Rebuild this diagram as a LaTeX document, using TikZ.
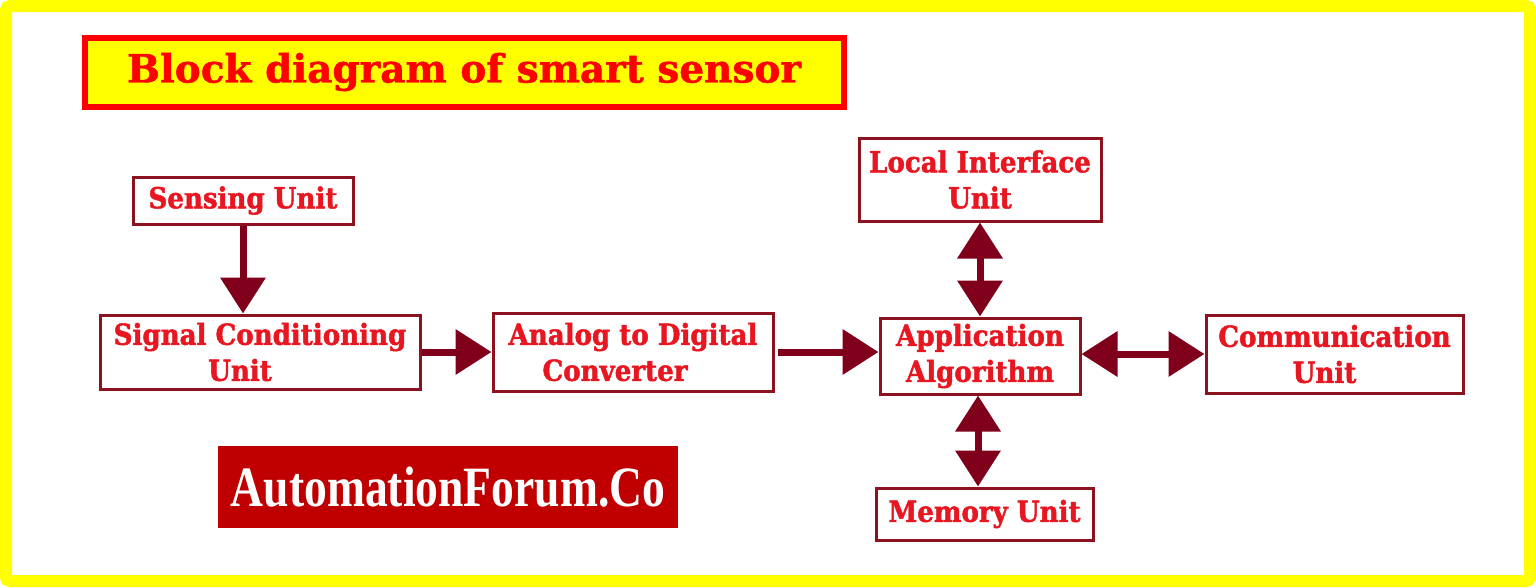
\documentclass[tikz,border=0pt]{standalone}
\usepackage{fontspec}
\setmainfont{Liberation Serif}
\newfontfamily\titlefont{DejaVu Serif}[BoldFeatures={FakeBold=1.2}]
\newfontfamily\boxfont{DejaVu Serif Condensed}[BoldFeatures={FakeBold=1.6}]
\usetikzlibrary{arrows.meta}
\definecolor{arrowc}{RGB}{128,0,28}
\definecolor{boxc}{RGB}{140,18,32}
\definecolor{textc}{RGB}{232,22,32}
\definecolor{frameY}{RGB}{255,255,0}
\definecolor{logoR}{RGB}{192,0,0}
\tikzset{
  blockbox/.style={draw=boxc, line width=3pt, fill=white, text=textc,
    font=\boxfont\bfseries\fontsize{29}{36}\selectfont, align=center, inner sep=0pt},
  flow/.style={draw=arrowc, line width=7pt, -{Triangle[length=36pt,width=44pt]}},
  biflow/.style={draw=arrowc, line width=7pt, {Triangle[length=36pt,width=44pt]}-{Triangle[length=36pt,width=44pt]}},
}
\begin{document}
\begin{tikzpicture}[x=1pt,y=-1pt]
\useasboundingbox (0,0) rectangle (1536,587);
\fill[white] (0,0) rectangle (1536,587);
\draw[frameY, line width=12pt, rounded corners=4pt] (6,6) rectangle (1530,581);

% title
\node[draw=red, line width=6pt, fill=frameY, minimum width=759pt, minimum height=69pt,
      text=red, font=\titlefont\bfseries\fontsize{39}{42}\selectfont, inner sep=0pt]
  (title) at (464,72) {Block diagram of smart sensor};

% blocks
\node[blockbox, minimum width=220pt, minimum height=47pt] (sense) at (243,200.5) {Sensing Unit};
\node[blockbox, minimum width=320pt, minimum height=74pt] (sig) at (260,352) {Signal Conditioning\\\hspace*{-40pt}Unit};
\node[blockbox, minimum width=280pt, minimum height=78pt] (adc) at (633,352) {Analog to Digital\\\hspace*{-36pt}Converter};
\node[blockbox, minimum width=200pt, minimum height=76pt] (app) at (980,356) {Application\\Algorithm};
\node[blockbox, minimum width=242pt, minimum height=83pt] (lif) at (980,179.5) {Local Interface\\Unit};
\node[blockbox, minimum width=257pt, minimum height=78pt] (comm) at (1334.5,354) {Communication\\\hspace*{-20pt}Unit};
\node[blockbox, minimum width=217pt, minimum height=52pt] (mem) at (984.5,514) {Memory Unit};

% logo
\node[fill=logoR, minimum width=460pt, minimum height=82pt, inner sep=0pt, text=white,
      font=\bfseries\fontsize{57}{60}\selectfont] (logo) at (448,487) {\scalebox{0.8}[1]{AutomationForum.Co}};

% connectors
\draw[flow] (sense.south) -- (sense.south |- sig.north);
\draw[flow] (sig.east) -- (sig.east -| adc.west);
\draw[flow] ([xshift=3pt]adc.east) -- (adc.east -| app.west);
\draw[biflow] (lif.south) -- (lif.south |- app.north);
\draw[biflow] (app.east |- comm.west) -- (comm.west);
\draw[biflow] ([xshift=-2pt]app.south) -- ([xshift=-2pt]app.south |- mem.north);
\end{tikzpicture}
\end{document}
